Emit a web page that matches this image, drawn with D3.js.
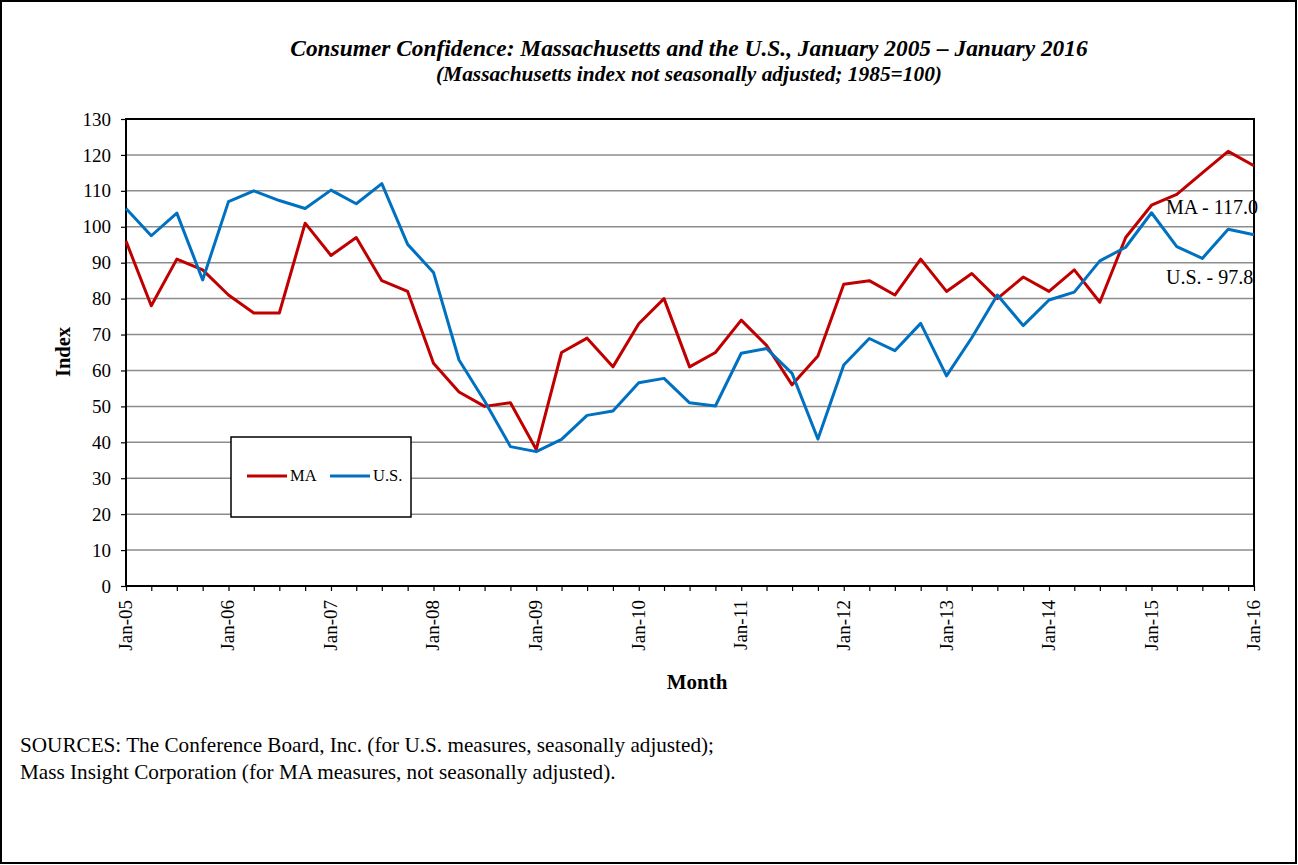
<!DOCTYPE html>
<html><head><meta charset="utf-8">
<script src="https://cdn.jsdelivr.net/npm/d3@7"></script>
<style>body{margin:0;background:#fff}svg{display:block}text{font-family:"Liberation Serif","Times New Roman",serif}</style>
</head><body>
<script>
const quarters = d3.range(45).map(i => new Date(2005, i*3, 1));
const maValues = [96,78,91,88,81,76,76,101,92,97,85,82,62,54,50,51,38,65,69,61,73,80,61,65,74,67,56,64,84,85,81,91,82,87,80,86,82,88,79,97,106,109,115,121,117];
const usValues = [105.1,97.5,103.8,85.2,107.0,110.0,107.3,105.1,110.2,106.4,112.0,95.1,87.3,62.9,51.5,38.8,37.4,40.8,47.5,48.7,56.6,57.8,51.0,50.1,64.8,66.1,59.2,40.9,61.5,68.9,65.5,73.1,58.5,69.1,81.0,72.5,79.6,81.8,90.5,94.3,103.9,94.5,91.2,99.3,97.8];
const yTicks = d3.range(0, 131, 10);
const seriesNames = ["MA", "U.S."];
const seriesColors = ["#C00000", "#0070C0"];
const title = "Consumer Confidence: Massachusetts and the U.S., January 2005 \u2013 January 2016";
const subtitle = "(Massachusetts index not seasonally adjusted; 1985=100)";
const endLabels = ["MA - 117.0", "U.S. - 97.8"];
const sources = ["SOURCES: The Conference Board, Inc. (for U.S. measures, seasonally adjusted);", "Mass Insight Corporation (for MA measures, not seasonally adjusted)."];

const W = 1298, H = 865;
const svg = d3.select("body").append("svg").attr("width", W).attr("height", H);
svg.append("rect").attr("x",1).attr("y",1).attr("width",W-3).attr("height",H-3).attr("fill","#fff").attr("stroke","#000").attr("stroke-width",2);

const L = 126, R = 1254, T = 119, B = 586;
const x = d3.scaleTime().domain([quarters[0], quarters[44]]).range([L, R]);
const y = d3.scaleLinear().domain([0, 130]).range([B, T]);

// grid
svg.append("g").selectAll("line").data(yTicks.filter(v => v>0 && v<130)).join("line")
  .attr("x1", L).attr("x2", R).attr("y1", d=>y(d)).attr("y2", d=>y(d))
  .attr("stroke", "#8c8c8c").attr("stroke-width", 1.5);

// y axis
const ya = svg.append("g").attr("transform", `translate(${L},0)`)
  .call(d3.axisLeft(y).tickValues(yTicks).tickSize(5).tickPadding(10));
ya.select(".domain").remove();
ya.selectAll("line").attr("stroke","#000").attr("stroke-width",1.2);
ya.selectAll("text").attr("font-size", 19).attr("fill","#000").attr("font-family","Liberation Serif");

// x axis
const xa = svg.append("g").attr("transform", `translate(0,${B})`)
  .call(d3.axisBottom(x).tickValues(quarters).tickSize(5).tickFormat(""));
xa.select(".domain").remove();
xa.selectAll("line").attr("stroke","#000").attr("stroke-width",1.2);
const janTicks = quarters.filter(d => d.getMonth() === 0);
svg.append("g").selectAll("text").data(janTicks).join("text")
  .attr("transform", d => `translate(${x(d)+6},${B+14}) rotate(-90)`)
  .attr("text-anchor","end").attr("font-size",19).attr("fill","#000")
  .text(d3.timeFormat("Jan-%y"));

// frame
svg.append("rect").attr("x",L).attr("y",T).attr("width",R-L).attr("height",B-T)
  .attr("fill","none").attr("stroke","#000").attr("stroke-width",2);

// lines
const line = d3.line().x((d,i)=>x(quarters[i])).y(d=>y(d));
[maValues, usValues].forEach((vals, k) => {
  svg.append("path").datum(vals).attr("d", line).attr("fill","none")
    .attr("stroke", seriesColors[k]).attr("stroke-width", 3).attr("stroke-linejoin","round");
});

// titles
svg.append("text").attr("x",689).attr("y",56).attr("text-anchor","middle")
  .attr("font-size",23.4).attr("font-weight","bold").attr("font-style","italic").text(title);
svg.append("text").attr("x",689).attr("y",81).attr("text-anchor","middle")
  .attr("font-size",21.4).attr("font-weight","bold").attr("font-style","italic").text(subtitle);

// axis titles
svg.append("text").attr("transform","translate(70,352) rotate(-90)").attr("text-anchor","middle")
  .attr("font-size",20.5).attr("font-weight","bold").text("Index");
svg.append("text").attr("x",697).attr("y",689).attr("text-anchor","middle")
  .attr("font-size",21).attr("font-weight","bold").text("Month");

// legend
svg.append("rect").attr("x",231).attr("y",437).attr("width",180).attr("height",80)
  .attr("fill","#fff").attr("stroke","#000").attr("stroke-width",1.5);
const lx = [247, 330];
seriesNames.forEach((n,k) => {
  svg.append("line").attr("x1",lx[k]).attr("x2",lx[k]+40).attr("y1",476).attr("y2",476)
    .attr("stroke",seriesColors[k]).attr("stroke-width",3);
  svg.append("text").attr("x",lx[k]+43).attr("y",481).attr("font-size",16.5).text(n);
});

// end labels
svg.append("text").attr("x",1166).attr("y",214).attr("font-size",20).text(endLabels[0]);
svg.append("text").attr("x",1166).attr("y",284).attr("font-size",20).text(endLabels[1]);

// sources
sources.forEach((s,i) => svg.append("text").attr("x",20).attr("y",752+i*27).attr("font-size",21.2).text(s));
</script>
</body></html>
